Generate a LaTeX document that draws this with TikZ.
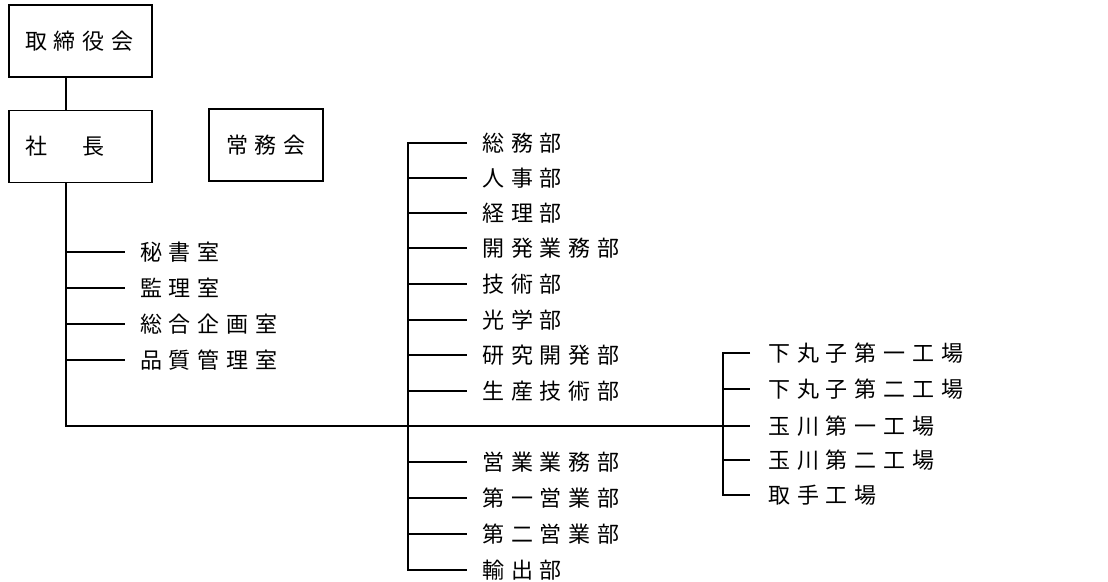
\documentclass[tikz,border=0pt]{standalone}
\usepackage{fontspec}
\newfontfamily\jpfont{Noto Sans CJK JP}[LetterSpace=31]
\begin{document}
\begin{tikzpicture}[x=1pt,y=-1pt,
  every node/.style={font=\jpfont\fontsize{22}{26}\selectfont},
  orgbox/.style={draw,line width=1.6pt,minimum height=72pt,inner ysep=0pt},
  leftbox/.style={orgbox,text width=111pt,inner xsep=16pt,align=left},
  unit/.style={anchor=west,inner sep=0pt},
  conn/.style={line width=1.3pt}]
\useasboundingbox (0,0) rectangle (1108,581);
% boxes
\node[leftbox] (board) at (80.5,41) {取締役会};
\node[leftbox] (pres) at (80.5,146.5) {社　長};
\node[orgbox,minimum width=114pt] (exec) at (266,145) {常務会};
% buses
\coordinate (trunk) at (66,426);
\coordinate (dbus) at (408,0);
\coordinate (fbus) at (723,0);
% staff
\node[unit] (s1) at (140,252) {秘書室};
\node[unit] (s2) at (140,288) {監理室};
\node[unit] (s3) at (140,324) {総合企画室};
\node[unit] (s4) at (140,360) {品質管理室};
% departments
\node[unit] (d1) at (482,143) {総務部};
\node[unit] (d2) at (482,178) {人事部};
\node[unit] (d3) at (482,213) {経理部};
\node[unit] (d4) at (482,248) {開発業務部};
\node[unit] (d5) at (482,284) {技術部};
\node[unit] (d6) at (482,320) {光学部};
\node[unit] (d7) at (482,355) {研究開発部};
\node[unit] (d8) at (482,391) {生産技術部};
\node[unit] (d9) at (482,462) {営業業務部};
\node[unit] (d10) at (482,498) {第一営業部};
\node[unit] (d11) at (482,534) {第二営業部};
\node[unit] (d12) at (482,570) {輸出部};
% factories
\node[unit] (f1) at (768,353) {下丸子第一工場};
\node[unit] (f2) at (768,389) {下丸子第二工場};
\node[unit] (f3) at (768,426) {玉川第一工場};
\node[unit] (f4) at (768,460) {玉川第二工場};
\node[unit] (f5) at (768,495) {取手工場};
% connectors
\draw[conn] (board.south -| trunk) -- (pres.north -| trunk);
\draw[conn] (pres.south -| trunk) -- (trunk) -- ([xshift=-18pt]f3.west);
\foreach \n in {s1,s2,s3,s4}
  \draw[conn] (\n.west -| trunk) -- ([xshift=-15pt]\n.west);
\draw[conn] ([xshift=-15pt]d1.west) -- (d1.west -| dbus) -- (d12.west -| dbus) -- ([xshift=-15pt]d12.west);
\foreach \n in {d2,d3,d4,d5,d6,d7,d8,d9,d10,d11}
  \draw[conn] (\n.west -| dbus) -- ([xshift=-15pt]\n.west);
\draw[conn] ([xshift=-18pt]f1.west) -- (f1.west -| fbus) -- (f5.west -| fbus) -- ([xshift=-18pt]f5.west);
\foreach \n in {f2,f4}
  \draw[conn] (\n.west -| fbus) -- ([xshift=-18pt]\n.west);
\end{tikzpicture}
\end{document}
